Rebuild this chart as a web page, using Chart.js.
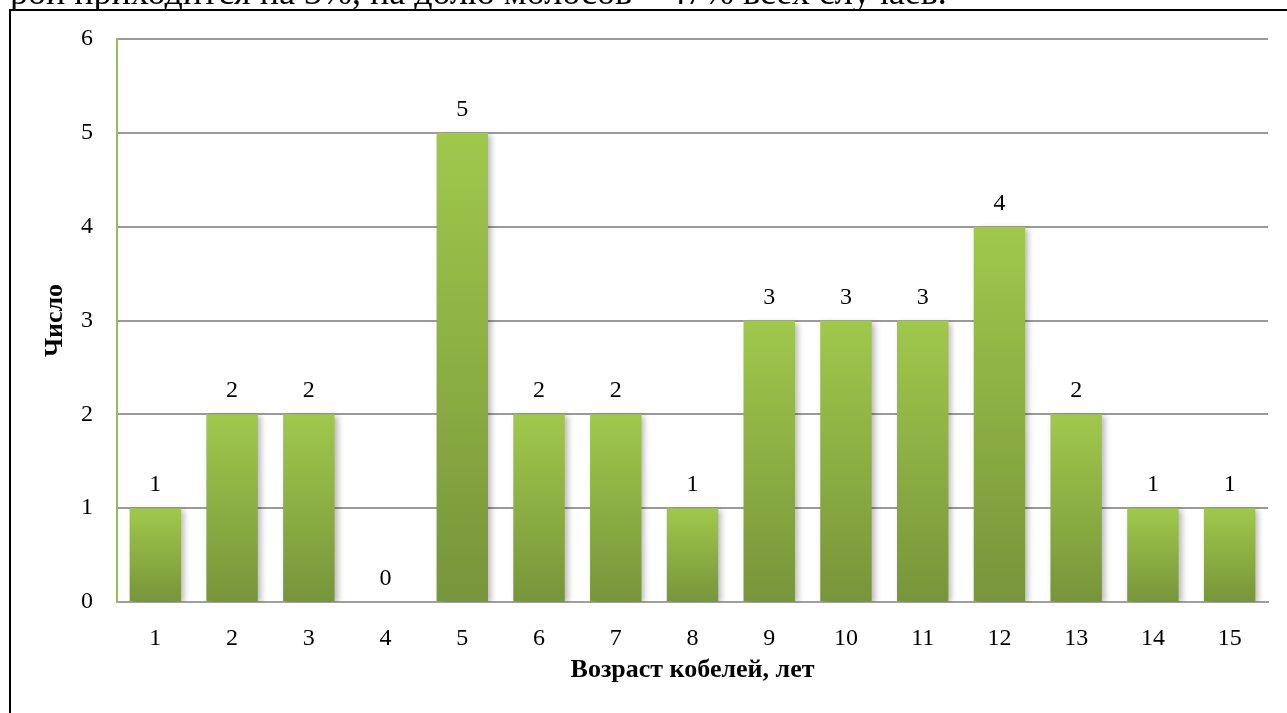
<!DOCTYPE html>
<html lang="ru">
<head>
<meta charset="utf-8">
<title>Возраст кобелей</title>
<script src="https://cdn.jsdelivr.net/npm/chart.js@4.4.1/dist/chart.umd.min.js"></script>
<style>
  html, body { margin: 0; padding: 0; background: #fff; overflow: hidden; }
  #wrap { position: relative; width: 1287px; height: 713px; overflow: hidden; }
  #prev-line {
    position: absolute; left: 10px; top: -26px;
    font-family: "Liberation Serif", "Times New Roman", serif;
    font-size: 36px; line-height: 36px; color: #000; white-space: nowrap;
    will-change: transform;
  }
  #frame {
    position: absolute; left: 9px; top: 9px; width: 2000px; height: 2000px;
    border: 2px solid #000; box-sizing: border-box; background: #fff;
  }
  #chart { position: absolute; left: 0; top: 0; }
</style>
</head>
<body>
<div id="wrap">
  <div id="prev-line">рой приходится на 3%, на долю молосов – 47% всех случаев.</div>
  <div id="frame"></div>
  <canvas id="chart" width="1287" height="713"></canvas>
</div>
<script>
// Число кобелей по возрасту (лет)
const ages = ['1', '2', '3', '4', '5', '6', '7', '8', '9', '10', '11', '12', '13', '14', '15'];
const counts = [1, 2, 2, 0, 5, 2, 2, 1, 3, 3, 3, 4, 2, 1, 1];
const yTicks = [0, 1, 2, 3, 4, 5, 6];

const serif = '"Liberation Serif", "Times New Roman", serif';

// Vertical green gradient, top to bottom of each bar
function barGradient(ctx) {
  const chart = ctx.chart;
  const area = chart.chartArea;
  if (!area || ctx.type !== 'data') return '#8DB046';
  const y = chart.scales.y;
  const top = y.getPixelForValue(ctx.parsed.y);
  const bottom = y.getPixelForValue(0);
  if (!(bottom - top > 0.5)) return '#8DB046';
  const g = chart.ctx.createLinearGradient(0, top, 0, bottom);
  g.addColorStop(0, '#A0C84C');
  g.addColorStop(1, '#77953A');
  return g;
}

// Soft drop shadow behind bars
const barShadow = {
  id: 'barShadow',
  beforeDatasetsDraw(chart) {
    const c = chart.ctx;
    c.save();
    c.shadowColor = 'rgba(0,0,0,0.28)';
    c.shadowBlur = 6;
    c.shadowOffsetX = 3;
    c.shadowOffsetY = 2;
  },
  afterDatasetsDraw(chart) {
    chart.ctx.restore();
  }
};

// Value labels above each bar
const valueLabels = {
  id: 'valueLabels',
  afterDatasetsDraw(chart) {
    const c = chart.ctx;
    const meta = chart.getDatasetMeta(0);
    c.save();
    c.fillStyle = '#000';
    c.font = '24px ' + serif;
    c.textAlign = 'center';
    c.textBaseline = 'alphabetic';
    meta.data.forEach((bar, i) => {
      const v = chart.data.datasets[0].data[i];
      c.fillText(String(v), bar.x, bar.y - 17);
    });
    c.restore();
  }
};

new Chart(document.getElementById('chart'), {
  type: 'bar',
  data: {
    labels: ages,
    datasets: [{
      data: counts,
      backgroundColor: barGradient,
      borderWidth: 0,
      categoryPercentage: 1,
      barPercentage: 0.67
    }]
  },
  options: {
    responsive: false,
    animation: false,
    events: [],
    layout: { padding: { top: 39, right: 19, bottom: 0, left: 0 } },
    plugins: { legend: { display: false }, tooltip: { enabled: false } },
    scales: {
      x: {
        grid: { display: false, drawTicks: false },
        border: { color: '#A0A0A0', width: 2 },
        ticks: { color: '#000', font: { family: serif, size: 24 }, padding: 22, maxRotation: 0 },
        title: {
          display: true, text: 'Возраст кобелей, лет', color: '#000',
          font: { family: serif, size: 26, weight: 'bold' }, padding: { top: 0, bottom: 27 }
        },
        afterFit(s) { s.height = 111; }
      },
      y: {
        min: 0, max: 6,
        afterBuildTicks(s) { s.ticks = yTicks.map(v => ({ value: v })); },
        grid: { color: '#9A9A9A', lineWidth: 2, drawTicks: false },
        border: { color: '#9BBB59', width: 2 },
        ticks: { color: '#000', font: { family: serif, size: 24 }, padding: 24 },
        title: {
          display: true, text: 'Число', color: '#000',
          font: { family: serif, size: 26, weight: 'bold' }, padding: { top: 40, bottom: 0 }
        },
        afterFit(s) { s.width = 117; }
      }
    }
  },
  plugins: [barShadow, valueLabels]
});
</script>
</body>
</html>
